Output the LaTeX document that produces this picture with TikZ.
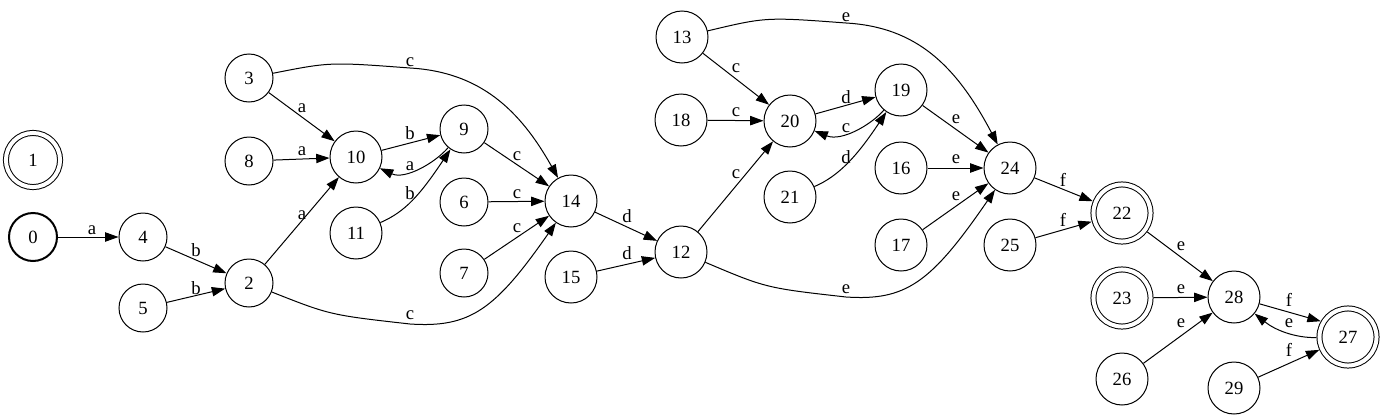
\documentclass[tikz,border=0pt]{standalone}
\usepackage{fontspec}
\setmainfont{Liberation Serif}
\usetikzlibrary{arrows.meta}
\begin{document}
\begin{tikzpicture}[x=0.75pt,y=-0.75pt,
  st/.style={circle,draw,line width=0.75pt,minimum size=36pt,inner sep=0pt,font=\fontsize{14}{16}\selectfont},
  stw/.style={st,minimum size=39pt},
  acc/.style={st,double,double distance=3pt,minimum size=40.6pt,outer sep=2.25pt},
  accw/.style={acc,minimum size=42.8pt},
  init/.style={st,line width=1.5pt},
  edge/.style={line width=0.75pt,-{Triangle[length=10pt,width=7pt]}},
  lbl/.style={anchor=base,inner sep=0pt,font=\fontsize{14}{16}\selectfont}]
\useasboundingbox (0,0) rectangle (1386,418);
% nodes
\node[init] (n0) at (33,237) {0};
\node[acc]  (n1) at (33,160) {1};
\node[st]   (n2) at (249,283) {2};
\node[st]   (n3) at (249,78) {3};
\node[st]   (n4) at (143,237) {4};
\node[st]   (n5) at (143,308) {5};
\node[st]   (n6) at (464,202) {6};
\node[st]   (n7) at (464,273) {7};
\node[st]   (n8) at (249,161) {8};
\node[st]   (n9) at (464,129) {9};
\node[stw]  (n10) at (356,157) {10};
\node[stw]  (n11) at (356,233) {11};
\node[stw]  (n12) at (681,252) {12};
\node[stw]  (n13) at (682,37) {13};
\node[stw]  (n14) at (571,201) {14};
\node[stw]  (n15) at (571,277) {15};
\node[stw]  (n16) at (901,168) {16};
\node[stw]  (n17) at (901,245) {17};
\node[stw]  (n18) at (681,120) {18};
\node[stw]  (n19) at (901,90) {19};
\node[stw]  (n20) at (790,121) {20};
\node[stw]  (n21) at (790,197) {21};
\node[accw] (n22) at (1122,213) {22};
\node[accw] (n23) at (1122,298) {23};
\node[stw]  (n24) at (1010,168) {24};
\node[stw]  (n25) at (1010,245) {25};
\node[stw]  (n26) at (1122,379) {26};
\node[accw] (n27) at (1348,337) {27};
\node[stw]  (n28) at (1234,297) {28};
\node[stw]  (n29) at (1234,388) {29};
% edges
\draw[edge] (n0) -- (n4) node[lbl] at (92,234) {a};
\draw[edge] (n4) -- (n2) node[lbl] at (196,256) {b};
\draw[edge] (n5) -- (n2) node[lbl] at (196,294) {b};
\draw[edge] (n2) -- (n10) node[lbl] at (302,219) {a};
\draw[edge] (n3) -- (n10) node[lbl] at (302,112) {a};
\draw[edge] (n8) -- (n10) node[lbl] at (302,155) {a};
\draw[edge] (n3) .. controls (330,62) .. (410,68) .. controls (480,72) and (520,110) .. (n14) node[lbl] at (410,66) {c};
\draw[edge] (n2) .. controls (330,315) .. (410,324) .. controls (470,328) and (495,310) .. (n14) node[lbl] at (410,319) {c};
\draw[edge] (n10) -- (n9) node[lbl] at (410,139) {b};
\draw[edge] (n9) .. controls (435,163) and (405,180) .. (n10) node[lbl] at (410,170) {a};
\draw[edge] (n11) .. controls (405,212) and (420,195) .. (n9) node[lbl] at (410,199) {b};
\draw[edge] (n9) -- (n14) node[lbl] at (517,160) {c};
\draw[edge] (n6) -- (n14) node[lbl] at (517,198) {c};
\draw[edge] (n7) -- (n14) node[lbl] at (517,232) {c};
\draw[edge] (n14) -- (n12) node[lbl] at (627,222) {d};
\draw[edge] (n15) -- (n12) node[lbl] at (627,259) {d};
\draw[edge] (n12) -- (n20) node[lbl] at (736,178) {c};
\draw[edge] (n13) -- (n20) node[lbl] at (736,72) {c};
\draw[edge] (n18) -- (n20) node[lbl] at (736,116) {c};
\draw[edge] (n13) .. controls (766,17) .. (846,23) .. controls (916,27) and (956,65) .. (n24) node[lbl] at (846,21) {e};
\draw[edge] (n12) .. controls (766,288) .. (846,297) .. controls (906,301) and (931,283) .. (n24) node[lbl] at (846,293) {e};
\draw[edge] (n20) -- (n19) node[lbl] at (846,103) {d};
\draw[edge] (n19) .. controls (872,124) and (842,142) .. (n20) node[lbl] at (846,132) {c};
\draw[edge] (n21) .. controls (839,176) and (857,156) .. (n19) node[lbl] at (846,163) {d};
\draw[edge] (n19) -- (n24) node[lbl] at (956,123) {e};
\draw[edge] (n16) -- (n24) node[lbl] at (956,163) {e};
\draw[edge] (n17) -- (n24) node[lbl] at (956,200) {e};
\draw[edge] (n24) -- (n22) node[lbl] at (1063,186) {f};
\draw[edge] (n25) -- (n22) node[lbl] at (1063,226) {f};
\draw[edge] (n22) -- (n28) node[lbl] at (1181,250) {e};
\draw[edge] (n23) -- (n28) node[lbl] at (1181,293) {e};
\draw[edge] (n26) -- (n28) node[lbl] at (1181,327) {e};
\draw[edge] (n28.-15) -- (n27.150) node[lbl] at (1289,306) {f};
\draw[edge] (n27) .. controls (1295,338) and (1275,330) .. (n28) node[lbl] at (1289,327) {e};
\draw[edge] (n29) -- (n27) node[lbl] at (1289,356) {f};
\end{tikzpicture}
\end{document}
